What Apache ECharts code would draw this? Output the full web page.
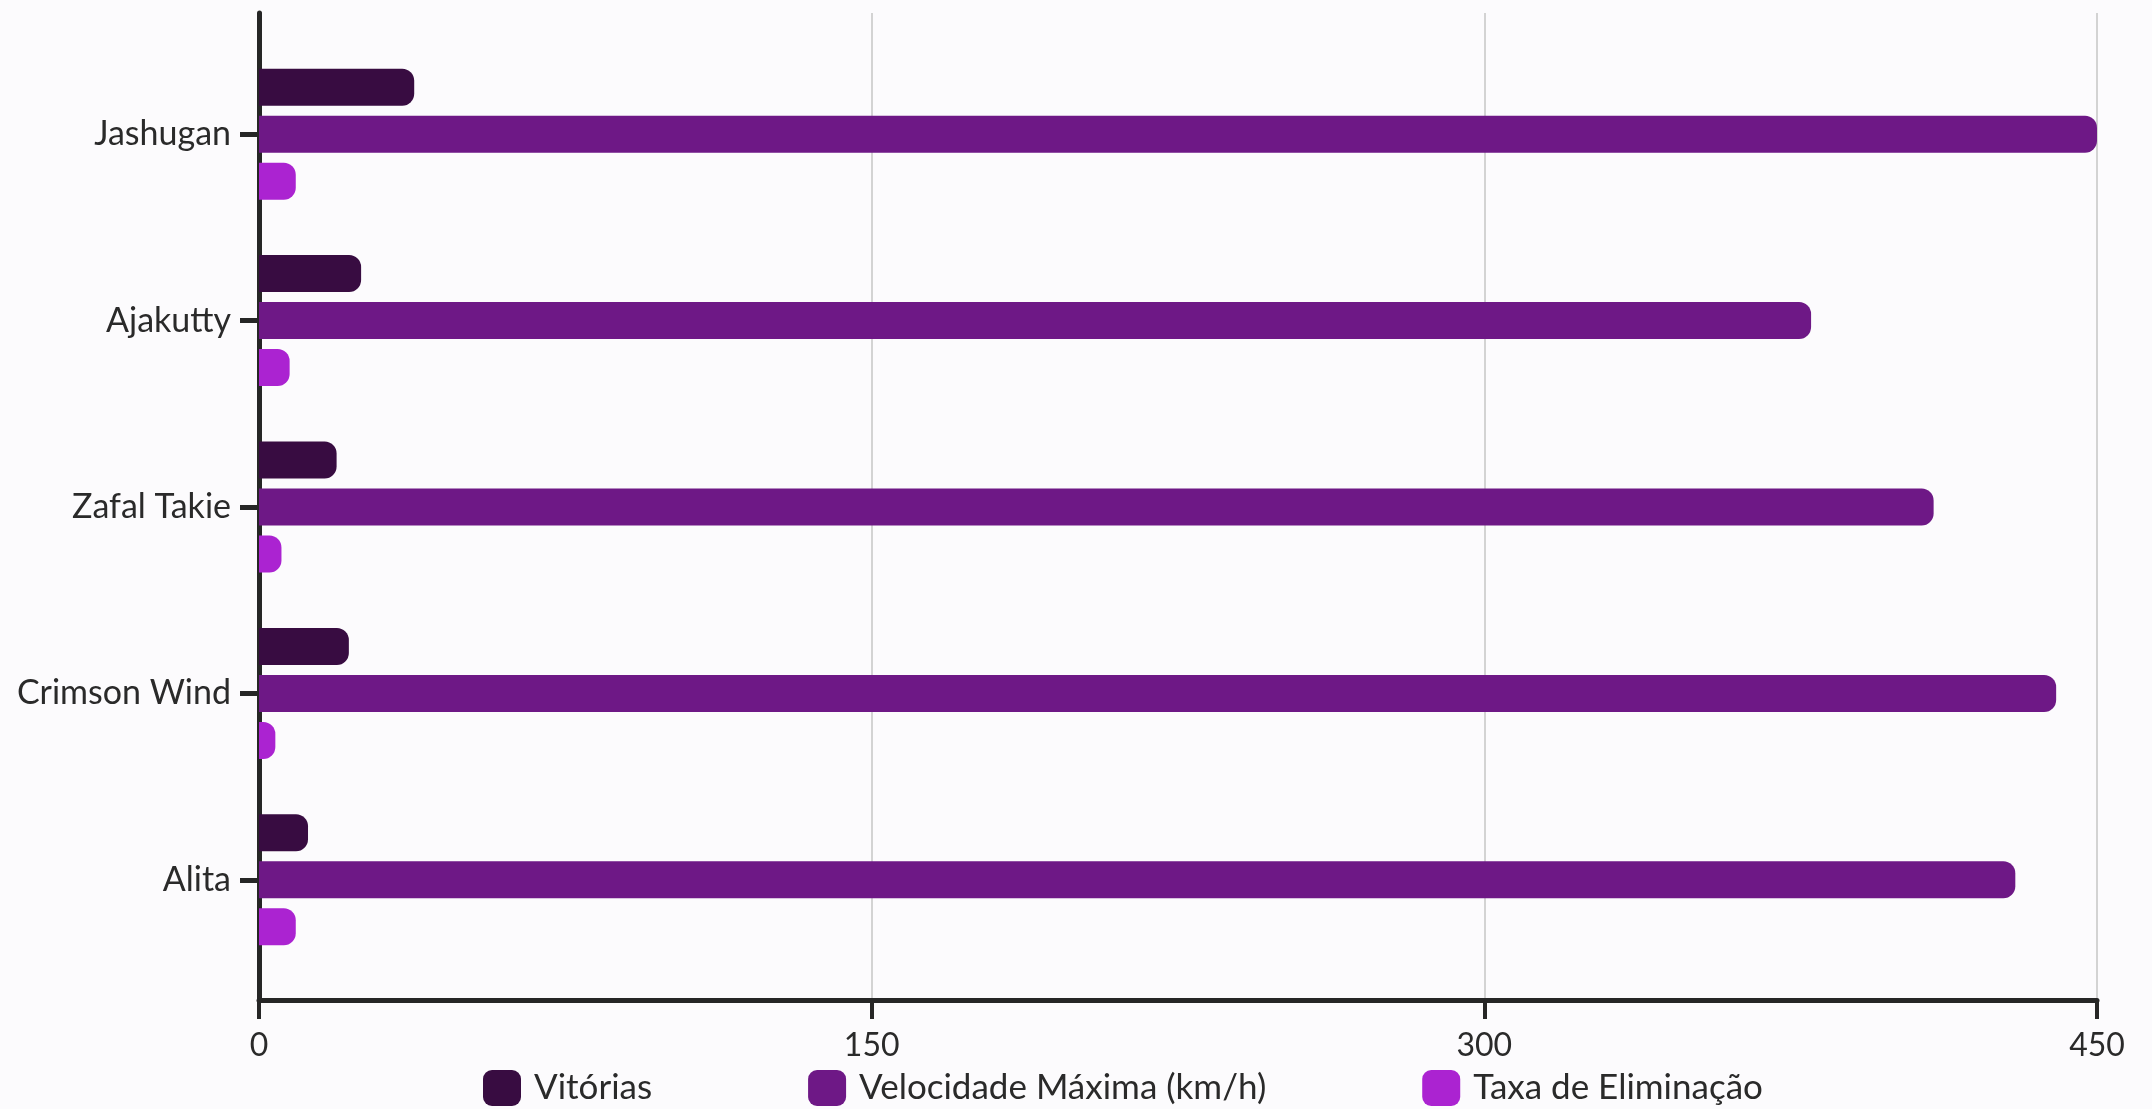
<!DOCTYPE html>
<html>
<head>
<meta charset="utf-8">
<script src="https://cdn.jsdelivr.net/npm/echarts@6/dist/echarts.min.js"></script>
<style>
  html, body { margin: 0; padding: 0; background: #fcfbfd; }
  #chart { width: 2152px; height: 1109px; }
</style>
</head>
<body>
<div id="chart"></div>
<script>
const categories = ['Jashugan', 'Ajakutty', 'Zafal Takie', 'Crimson Wind', 'Alita'];
const seriesNames = ['Vitórias', 'Velocidade Máxima (km/h)', 'Taxa de Eliminação'];
const vitorias = [38, 25, 19, 22, 12];
const velocidade = [450, 380, 410, 440, 430];
const taxa = [9, 7.5, 5.5, 4, 9];
const xTicks = [0, 150, 300, 450];
const colors = ['#380c41', '#6e1886', '#ab23d1'];

const FONT = 'Lato';
const TEXT = '#2a2a2a';
const AXIS = '#262626';

const chart = echarts.init(document.getElementById('chart'), null, { renderer: 'canvas' });

const values = [vitorias, velocidade, taxa];

const option = {
  backgroundColor: '#fcfbfd',
  animation: false,
  color: colors,
  legend: {
    left: 483,
    top: 1070,
    padding: 0,
    itemWidth: 38,
    itemHeight: 36,
    itemGap: 156,
    icon: 'roundRect',
    textStyle: { fontFamily: FONT, fontSize: 35, color: TEXT, padding: [0, 0, 0, 8] },
    data: seriesNames
  },
  grid: [
    { left: 259, right: 55, top: 13, bottom: 109, containLabel: false, outerBoundsMode: 'none' },
    { left: 259, right: 55, top: 41, height: 932, containLabel: false, outerBoundsMode: 'none' }
  ],
  xAxis: [
    {
      gridIndex: 0,
      type: 'value',
      min: xTicks[0],
      max: xTicks[xTicks.length - 1],
      interval: xTicks[1] - xTicks[0],
      axisLine: { show: true, lineStyle: { color: AXIS, width: 5 } },
      axisTick: { show: true, length: 19, lineStyle: { color: AXIS, width: 4 } },
      splitLine: { show: true, lineStyle: { color: '#d3d3d3', width: 2 } },
      axisLabel: { fontFamily: FONT, fontSize: 32, color: TEXT, margin: 30 }
    },
    {
      gridIndex: 1,
      type: 'value',
      min: xTicks[0],
      max: xTicks[xTicks.length - 1],
      interval: xTicks[1] - xTicks[0],
      show: false
    }
  ],
  yAxis: [
    {
      gridIndex: 0,
      type: 'value',
      axisLine: { show: true, lineStyle: { color: AXIS, width: 5 } },
      axisTick: { show: false },
      axisLabel: { show: false },
      splitLine: { show: false }
    },
    {
      gridIndex: 1,
      type: 'category',
      inverse: true,
      data: categories,
      axisLine: { show: false },
      axisTick: { show: true, alignWithLabel: true, length: 19, lineStyle: { color: AXIS, width: 5 } },
      axisLabel: { fontFamily: FONT, fontSize: 34, color: TEXT, margin: 28 }
    }
  ],
  series: seriesNames.map((name, i) => ({
    name: name,
    type: 'bar',
    xAxisIndex: 1,
    yAxisIndex: 1,
    data: values[i],
    barWidth: 37,
    barGap: '27%',
    itemStyle: { color: colors[i], borderRadius: [0, 12, 12, 0] }
  }))
};

chart.setOption(option);
</script>
</body>
</html>
